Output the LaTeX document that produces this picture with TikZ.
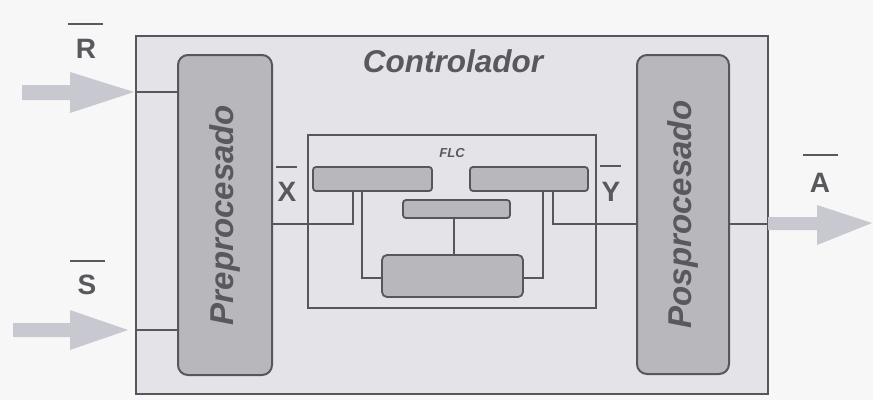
\documentclass[tikz,border=0pt]{standalone}
\usepackage{fontspec}
\setmainfont{Liberation Sans}
\definecolor{bgc}{HTML}{F7F7F8}
\definecolor{boxfill}{HTML}{E3E3E8}
\definecolor{blockfill}{HTML}{B7B7BC}
\definecolor{linec}{HTML}{56565C}
\definecolor{textc}{HTML}{58585D}
\definecolor{arrowc}{HTML}{C8C8D1}
\tikzset{
  outerbox/.style={draw=linec, line width=2.4pt, fill=boxfill, inner sep=0pt},
  bigblock/.style={draw=linec, line width=2pt, fill=blockfill, rounded corners=10pt, inner sep=0pt},
  smallblock/.style={draw=linec, line width=1.8pt, fill=blockfill, rounded corners=3pt, inner sep=0pt},
  flcbox/.style={draw=linec, line width=1.8pt, inner sep=0pt},
  wire/.style={draw=linec, line width=1.6pt},
  sig/.style={text=textc, font=\fontsize{28}{28}\selectfont\bfseries, inner sep=0pt},
  bar/.style={draw=textc, line width=1.6pt},
  blocklabel/.style={text=textc, font=\fontsize{30}{30}\selectfont\bfseries\itshape, inner sep=0pt},
  sidelabel/.style={text=textc, font=\fontsize{33}{33}\selectfont\bfseries\itshape, inner sep=0pt},
  bigarrow/.style={fill=arrowc}
}
\begin{document}
\begin{tikzpicture}[x=1pt,y=-1pt]
\fill[bgc] (0,0) rectangle (873,400);
\useasboundingbox (0,0) rectangle (873,400);

% outer controller box
\node[outerbox, minimum width=632, minimum height=358] (outer) at (452,215) {};
\node[blocklabel, font=\fontsize{31.5}{31.5}\selectfont\bfseries\itshape] (ctrl) at (453,61) {Controlador};

% pre / post blocks
\node[bigblock, minimum width=94, minimum height=320] (pre) at (225,215) {};
\node[sidelabel, rotate=90] (pretext) at (pre.center) {Preprocesado};
\node[bigblock, minimum width=92, minimum height=319] (pos) at (683,214.5) {};
\node[sidelabel, rotate=90] (postext) at (pos.center) {Posprocesado};

% FLC box
\node[flcbox, minimum width=288, minimum height=173] (flc) at (452,221.5) {};
\node[text=textc, font=\fontsize{13}{13}\selectfont\bfseries\itshape, inner sep=0pt] (flclabel) at (452,153) {FLC};

\node[smallblock, minimum width=119, minimum height=24] (tl) at (372.5,179) {};
\node[smallblock, minimum width=118, minimum height=24] (tr) at (529,179) {};
\node[smallblock, minimum width=107, minimum height=18] (mid) at (456.5,209) {};
\node[smallblock, minimum width=141, minimum height=42, rounded corners=5pt] (bot) at (452.5,276) {};

% wires
\draw[wire] (pre.east |- 0,224) -| (tl.south -| 353,0);
\draw[wire] (tl.south -| 362,0) |- (bot.west |- 0,278);
\draw[wire] (mid.south -| 454,0) -- (bot.north -| 454,0);
\draw[wire] (tr.south -| 543,0) |- (bot.east |- 0,278);
\draw[wire] (tr.south -| 553,0) |- (pos.west |- 0,224);
\draw[wire] (pos.east |- 0,224) -- (outer.east |- 0,224);
\draw[wire] (outer.west |- 0,92) -- (pre.west |- 0,92);
\draw[wire] (outer.west |- 0,330) -- (pre.west |- 0,330);

% big input/output arrows
\fill[bigarrow] (22,85) -- (70,85) -- (70,72) -- (134,92) -- (70,113) -- (70,100) -- (22,100) -- cycle;
\fill[bigarrow] (13,323) -- (70,323) -- (70,310) -- (128,330) -- (70,350) -- (70,337) -- (13,337) -- cycle;
\fill[bigarrow] (768,217) -- (817,217) -- (817,205) -- (872,223) -- (817,245) -- (817,230) -- (768,230) -- cycle;

% signal labels with bars
\node[sig] (R) at (86,49) {R};
\draw[bar] (68,24) -- (103,24);
\node[sig] (S) at (87,285) {S};
\draw[bar] (70,261) -- (105,261);
\node[sig] (X) at (287,192) {X};
\draw[bar] (276,167) -- (297,167);
\node[sig] (Y) at (611,192) {Y};
\draw[bar] (600,166) -- (621,166);
\node[sig] (A) at (820,183) {A};
\draw[bar] (803,155) -- (838,155);
\end{tikzpicture}
\end{document}
